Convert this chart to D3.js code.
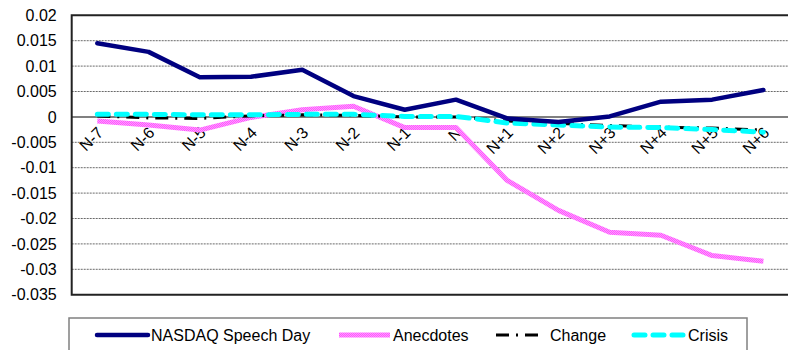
<!DOCTYPE html>
<html>
<head>
<meta charset="utf-8">
<script src="https://cdn.jsdelivr.net/npm/d3@7"></script>
<style>
  body { margin: 0; background: #fff; }
  text { font-family: "Liberation Sans", Arial, sans-serif; }
</style>
</head>
<body>
<div id="chart"></div>
<script>
// data
var categories = ["N-7","N-6","N-5","N-4","N-3","N-2","N-1","N","N+1","N+2","N+3","N+4","N+5","N+6"];
var nasdaq    = [0.0145, 0.0128, 0.0078, 0.0079, 0.0093, 0.0041, 0.0014, 0.0034, -0.0003, -0.0010, 0.0001, 0.0030, 0.0034, 0.0053];
var anecdotes = [-0.0008, -0.0016, -0.0026, -0.0001, 0.0014, 0.0021, -0.0021, -0.0021, -0.0125, -0.0184, -0.0227, -0.0233, -0.0273, -0.0284];
var change    = [0.0002, -0.0002, -0.0003, 0.0002, 0.0004, 0.0003, 0.0000, 0.0000, -0.0008, -0.0013, -0.0017, -0.0020, -0.0022, -0.0026];
var crisis    = [0.0005, 0.0005, 0.0004, 0.0004, 0.0005, 0.0005, 0.0001, 0.0001, -0.0012, -0.0016, -0.0020, -0.0021, -0.0025, -0.0030];
var yTicks = [0.02, 0.015, 0.01, 0.005, 0, -0.005, -0.01, -0.015, -0.02, -0.025, -0.03, -0.035];

var width = 788, height = 350;
var plotLeft = 71.7, plotRight = 789, plotTop = 15.3, plotBottom = 294.7;
var fontSize = 16;

var svg = d3.select("#chart").append("svg")
    .attr("width", width)
    .attr("height", height);

// dithered pink like the Excel pattern line
var defs = svg.append("defs");
var pat = defs.append("pattern")
    .attr("id", "pinkdots")
    .attr("patternUnits", "userSpaceOnUse")
    .attr("width", 2).attr("height", 2);
pat.append("rect").attr("width", 2).attr("height", 2).attr("fill", "#ff9cff");
pat.append("rect").attr("width", 1).attr("height", 1).attr("fill", "#ff55ff");
pat.append("rect").attr("x", 1).attr("y", 1).attr("width", 1).attr("height", 1).attr("fill", "#ff55ff");

var x = d3.scalePoint().domain(categories).range([plotLeft, plotRight]).padding(0.5);
var y = d3.scaleLinear().domain([-0.035, 0.02]).range([plotBottom, plotTop]);

// gridlines
svg.append("g")
    .selectAll("line")
    .data(yTicks.filter(function(d) { return d !== 0 && d !== 0.02 && d !== -0.035; }))
    .enter()
    .append("line")
    .attr("x1", plotLeft).attr("x2", plotRight)
    .attr("y1", function(d) { return y(d); })
    .attr("y2", function(d) { return y(d); })
    .attr("stroke", "#6a6a6a")
    .attr("stroke-width", 1)
    .attr("stroke-dasharray", "2,1");

// y axis labels
var yAxis = d3.axisLeft(y).tickValues(yTicks).tickSize(0).tickPadding(15)
    .tickFormat(function(d) { return d === 0 ? "0" : String(+d.toFixed(3)); });
var gy = svg.append("g").attr("transform", "translate(" + plotLeft + ",0)").call(yAxis);
gy.select(".domain").remove();
gy.selectAll("text")
    .attr("font-size", fontSize)
    .attr("font-family", "Liberation Sans, Arial, sans-serif")
    .attr("fill", "#000");

// zero line
svg.append("line")
    .attr("x1", plotLeft).attr("x2", plotRight)
    .attr("y1", y(0)).attr("y2", y(0))
    .attr("stroke", "#808080").attr("stroke-width", 2);

// plot frame
svg.append("path")
    .attr("d", "M" + plotRight + "," + plotTop + "H" + plotLeft + "V" + plotBottom + "H" + plotRight)
    .attr("fill", "none")
    .attr("stroke", "#222")
    .attr("stroke-width", 2);

// category labels
svg.append("g")
    .selectAll("text")
    .data(categories)
    .enter()
    .append("text")
    .attr("transform", function(d) { return "translate(" + (x(d) - 1) + "," + (y(0) + 9) + ") rotate(-45)"; })
    .attr("text-anchor", "end")
    .attr("dy", "0.7em")
    .attr("font-size", fontSize)
    .text(function(d) { return d; });

var line = d3.line()
    .x(function(d, i) { return x(categories[i]); })
    .y(function(d) { return y(d); });

var series = [
    { name: "Anecdotes", values: anecdotes, stroke: "url(#pinkdots)", width: 5, dash: null, cap: "butt" },
    { name: "Change", values: change, stroke: "#000", width: 3, dash: "13,7,2,7", cap: "butt" },
    { name: "Crisis", values: crisis, stroke: "#00ffff", width: 5, dash: "11,8", cap: "round" },
    { name: "NASDAQ Speech Day", values: nasdaq, stroke: "#000080", width: 4.5, dash: null, cap: "round" }
];

svg.append("g")
    .selectAll("path")
    .data(series)
    .enter()
    .append("path")
    .attr("d", function(d) { return line(d.values); })
    .attr("fill", "none")
    .attr("stroke", function(d) { return d.stroke; })
    .attr("stroke-width", function(d) { return d.width; })
    .attr("stroke-dasharray", function(d) { return d.dash; })
    .attr("stroke-linecap", function(d) { return d.cap; })
    .attr("stroke-linejoin", "round");

// legend
svg.append("rect")
    .attr("x", 69).attr("y", 318)
    .attr("width", 678).attr("height", 40)
    .attr("fill", "#fff")
    .attr("stroke", "#808080")
    .attr("stroke-width", 1.5);

var legendItems = [
    { s: series[3], x1: 97, x2: 148, tx: 151 },
    { s: series[0], x1: 339, x2: 390, tx: 393 },
    { s: series[1], x1: 496, x2: 540, tx: 550 },
    { s: series[2], x1: 634, x2: 685, tx: 688 }
];
var lg = svg.append("g").selectAll("g").data(legendItems).enter().append("g");
lg.append("line")
    .attr("x1", function(d) { return d.x1; })
    .attr("x2", function(d) { return d.x2; })
    .attr("y1", 335).attr("y2", 335)
    .attr("stroke", function(d) { return d.s.stroke; })
    .attr("stroke-width", function(d) { return d.s.width; })
    .attr("stroke-dasharray", function(d) { return d.s.dash; })
    .attr("stroke-linecap", function(d) { return d.s.cap; });
lg.append("text")
    .attr("x", function(d) { return d.tx; })
    .attr("y", 341)
    .attr("font-size", fontSize)
    .text(function(d) { return d.s.name; });
</script>
</body>
</html>
